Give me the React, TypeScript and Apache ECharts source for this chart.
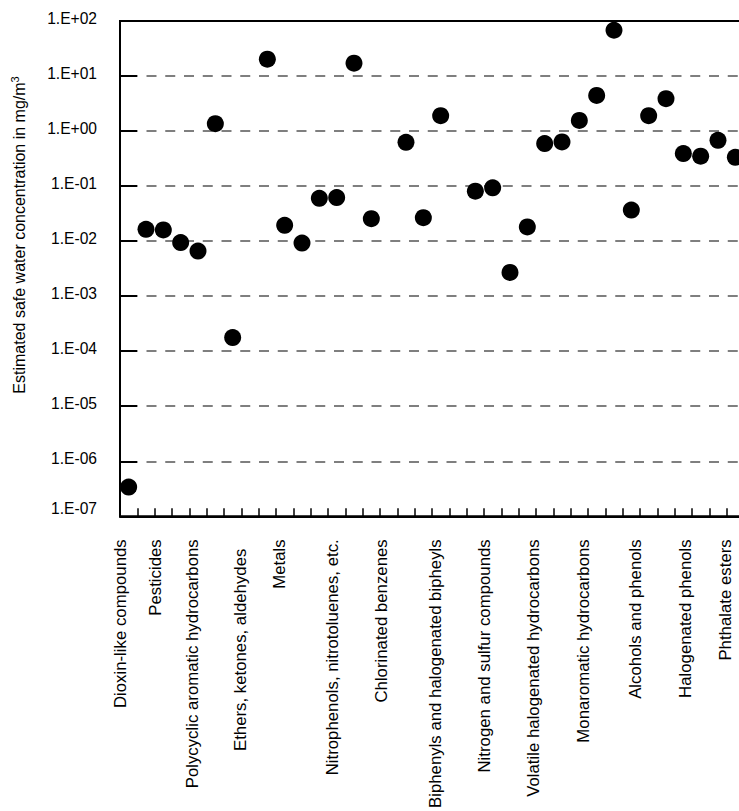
import React, { useEffect, useRef } from "react";
import * as echarts from "echarts";

// One value per x slot (36 slots); null = empty slot
const slotValues: (number | null)[] = [
  3.4e-7, 0.0164, 0.016, 0.0094, 0.0066, 1.36, 1.77e-4, null,
  20.2, 0.0194, 0.0092, 0.06, 0.062, 17.1, 0.0256, null,
  0.625, 0.0267, 1.9, null, 0.081, 0.093, 0.0027, 0.0181,
  0.593, 0.636, 1.56, 4.44, 67.9, 0.0367, 1.9, 3.87,
  0.39, 0.349, 0.68, 0.334,
];

const groupLabels: string[] = [
  "Dioxin-like compounds",
  "Pesticides",
  "Polycyclic aromatic hydrocarbons",
  "Ethers, ketones, aldehydes  ",
  "Metals",
  "Nitrophenols, nitrotoluenes, etc.",
  "Chlorinated benzenes",
  "Biphenyls and halogenated bipheyls",
  "Nitrogen and sulfur compounds",
  "Volatile halogenated hydrocarbons",
  "Monaromatic hydrocarbons",
  "Alcohols and phenols",
  "Halogenated phenols",
  "Phthalate esters",
];

// label anchor positions along the slot axis
const groupLabelPos: number[] = [
  0, 2.05, 4.16, 6.96, 9.21, 12.27, 15.09, 18.22, 21.0, 23.88, 26.75, 29.73,
  32.61, 34.91,
];

const yTickLabels: string[] = [
  "1.E-07", "1.E-06", "1.E-05", "1.E-04", "1.E-03",
  "1.E-02", "1.E-01", "1.E+00", "1.E+01", "1.E+02",
];

const yTitle = "Estimated safe water concentration in mg/m";
const FONT = "'Liberation Sans', Arial, Helvetica, sans-serif";

export default function App() {
  const ref = useRef<HTMLDivElement>(null);
  useEffect(() => {
    if (!ref.current) return;
    const chart = echarts.init(ref.current, undefined, { renderer: "svg" });
    const data = slotValues
      .map((v, i) => (v == null ? null : [i + 0.5, v]))
      .filter((d) => d != null);
    chart.setOption({
      animation: false,
      backgroundColor: "#fff",
      grid: {
        left: 120,
        top: 21,
        width: 624,
        height: 497,
        show: true,
        borderColor: "#000",
        borderWidth: 2,
        backgroundColor: "transparent",
      },
      xAxis: {
        type: "value",
        min: 0,
        max: 36,
        interval: 1,
        axisLine: { show: true, lineStyle: { color: "#000", width: 2 } },
        axisTick: { show: true, inside: true, length: 8, lineStyle: { color: "#000", width: 1.5 } },
        splitLine: { show: false },
        axisLabel: {
          customValues: groupLabelPos,
          rotate: 90,
          margin: 23,
          fontSize: 16.8,
          fontFamily: FONT,
          color: "#000",
          formatter: (v: number) => {
            const i = groupLabelPos.findIndex((p) => Math.abs(p - v) < 1e-6);
            return i >= 0 ? groupLabels[i] : "";
          },
        },
      },
      yAxis: {
        type: "log",
        logBase: 10,
        min: 1e-7,
        max: 100,
        interval: 1,
        axisLine: { show: true, lineStyle: { color: "#000", width: 2 } },
        axisTick: { show: true, inside: true, length: 17, lineStyle: { color: "#000", width: 2 } },
        minorTick: { show: false },
        splitLine: {
          show: true,
          showMinLine: false,
          showMaxLine: false,
          lineStyle: { color: "#555", width: 1.5, type: [10, 8.75], dashOffset: 10.8 },
        },
        axisLabel: {
          margin: 23,
          color: "#000",
          fontSize: 15.6,
          fontFamily: FONT,
          formatter: (v: number) => {
            const e = Math.round(Math.log10(v));
            const t = yTickLabels[e + 7] ?? "";
            if (e === -7) return "{lo|" + t + "}";
            return "{n|" + t + "}";
          },
          rich: {
            n: { fontSize: 15.6, fontFamily: FONT, color: "#000", padding: [0, 0, 6, 0] },
            lo: { fontSize: 15.6, fontFamily: FONT, color: "#000", padding: [0, 0, 15, 0] },
          },
        },
      },
      graphic: [
        {
          type: "text",
          x: 19.5,
          y: 235,
          rotation: Math.PI / 2,
          style: {
            text: "{a|" + yTitle + "}{s|3}",
            align: "center",
            verticalAlign: "middle",
            rich: {
              a: { fontSize: 16, fontFamily: FONT, fill: "#000", lineHeight: 20 },
              s: { fontSize: 11, fontFamily: FONT, fill: "#000", verticalAlign: "top", lineHeight: 20 },
            },
          },
        },
      ],
      series: [
        {
          type: "scatter",
          data,
          symbol: "circle",
          symbolSize: 17,
          itemStyle: { color: "#000", opacity: 1 },
        },
      ],
    });
    return () => chart.dispose();
  }, []);
  return (
    <div
      style={{
        position: "fixed",
        left: 0,
        top: 0,
        width: 739,
        height: 811,
        overflow: "hidden",
        background: "#fff",
      }}
    >
      <div ref={ref} style={{ width: 760, height: 811 }} />
    </div>
  );
}
